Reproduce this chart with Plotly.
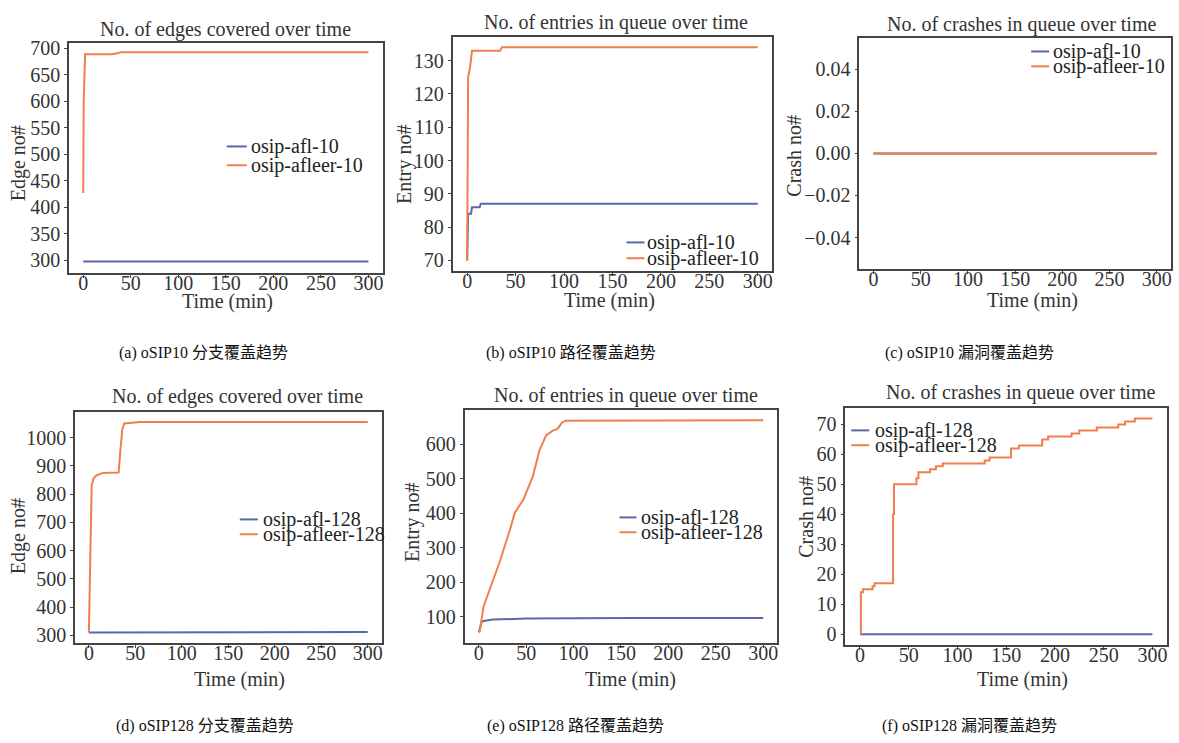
import plotly.graph_objects as go

W, H = 1179, 743

# ---------------- data ----------------
# (a) oSIP10 edges
a_afl_t = [0, 300]
a_afl_v = [298, 298]
a_afleer_t = [0, 0.5, 2, 30, 36, 40, 300]
a_afleer_v = [427, 600, 689, 689, 691, 693, 693]

# (b) oSIP10 entries
b_afl_t = [0, 0.5, 1, 4, 5, 13, 14, 300]
b_afl_v = [70, 78, 84, 84, 86, 86, 87, 87]
b_afleer_t = [0, 0.5, 1, 3, 5, 34, 36, 300]
b_afleer_v = [70, 110, 125, 128, 133, 133, 134, 134]

# (c) oSIP10 crashes
c_afl_t = [0, 300]
c_afl_v = [0, 0]
c_afleer_t = [0, 300]
c_afleer_v = [0, 0]

# (d) oSIP128 edges
d_afl_t = [0, 45, 50, 300]
d_afl_v = [310, 310, 312, 312]
d_afleer_t = [0, 1, 2, 3, 5, 8, 15, 32, 34, 36, 38, 45, 55, 300]
d_afleer_v = [310, 500, 760, 830, 855, 866, 875, 876, 960, 1030, 1050, 1052, 1055, 1055]

# (e) oSIP128 entries
e_afl_t = [0, 3, 5, 15, 50, 160, 300]
e_afl_v = [55, 85, 88, 92, 95, 97, 97]
e_afleer_t = [0, 1, 5, 12, 22, 33, 38, 47, 57, 64, 71, 78, 83, 88, 92, 300]
e_afleer_v = [55, 59, 130, 183, 259, 354, 402, 440, 507, 583, 626, 640, 645, 664, 669, 670]

# (f) oSIP128 crashes (step data)
f_afl_t = [0, 300]
f_afl_v = [0, 0]
f_afleer_t = [0, 1, 3, 13, 15, 34, 35, 58, 60, 72, 78, 85, 128, 133, 155, 163,
              187, 193, 217, 225, 243, 265, 272, 282, 300]
f_afleer_v = [0, 14, 15, 16, 17, 40, 50, 52, 54, 55, 56, 57, 58, 59, 62, 63,
              65, 66, 67, 68, 69, 70, 71, 72, 72]

titles = ["No. of edges covered over time", "No. of entries in queue over time",
          "No. of crashes in queue over time", "No. of edges covered over time",
          "No. of entries in queue over time", "No. of crashes in queue over time"]
ylabels = ["Edge no#", "Entry no#", "Crash no#", "Edge no#", "Entry no#", "Crash no#"]
xlabel = "Time (min)"
captions = ["(a) oSIP10 分支覆盖趋势", "(b) oSIP10 路径覆盖趋势", "(c) oSIP10 漏洞覆盖趋势",
            "(d) oSIP128 分支覆盖趋势", "(e) oSIP128 路径覆盖趋势", "(f) oSIP128 漏洞覆盖趋势"]
names_afl = ["osip-afl-10"] * 3 + ["osip-afl-128"] * 3
names_afleer = ["osip-afleer-10"] * 3 + ["osip-afleer-128"] * 3

series = [
    (a_afl_t, a_afl_v, a_afleer_t, a_afleer_v, "linear"),
    (b_afl_t, b_afl_v, b_afleer_t, b_afleer_v, "linear"),
    (c_afl_t, c_afl_v, c_afleer_t, c_afleer_v, "linear"),
    (d_afl_t, d_afl_v, d_afleer_t, d_afleer_v, "linear"),
    (e_afl_t, e_afl_v, e_afleer_t, e_afleer_v, "linear"),
    (f_afl_t, f_afl_v, f_afleer_t, f_afleer_v, "hv"),
]

yticks = [
    [300, 350, 400, 450, 500, 550, 600, 650, 700],
    [70, 80, 90, 100, 110, 120, 130],
    [-0.04, -0.02, 0.0, 0.02, 0.04],
    [300, 400, 500, 600, 700, 800, 900, 1000],
    [100, 200, 300, 400, 500, 600],
    [0, 10, 20, 30, 40, 50, 60, 70],
]
yranges = [[276, 711], [66.8, 137.2], [-0.055, 0.055], [273, 1092], [24, 701], [-3.6, 75.6]]
xticks = [0, 50, 100, 150, 200, 250, 300]

# ---------------- layout geometry (pixels) ----------------
boxes = [(69, 383, 38, 271), (453, 773, 32, 269), (860, 1172, 33, 267),
         (75, 382, 411, 645), (465, 778, 409, 645), (846, 1168, 407, 647)]
title_pos = [(226, 25), (617, 18), (1022, 20), (238, 396), (627, 395), (1021, 392)]
ylab_pos = [(18, 160), (405, 161), (795, 152), (18, 537), (413, 523), (807, 517)]
xlab_pos = [(228, 300), (610, 299), (1033, 299), (240, 682), (631, 682), (1023, 682)]
cap_pos = [(204, 352), (571, 352), (970, 352), (205, 729), (576, 729), (970, 729)]
# legend: (line start, line end, text left, row1 y, row2 y)
leg_pos = [(227, 247, 249, 143, 162), (627, 645, 646, 240, 256),
           (1032, 1050, 1052, 47, 62), (240, 258, 261, 520, 535),
           (620, 637, 640, 518, 533), (852, 870, 874, 430, 445)]

BLUE = "#5a68a6"
ORANGE = "#f07e4e"
SERIF = "Liberation Serif"
CAPFONT = "Liberation Serif, Noto Sans CJK SC"

def px(x):
    return x / W

def py(y):
    return 1 - y / H

fig = go.Figure()
layout = dict(width=W, height=H, margin=dict(l=0, r=0, t=0, b=0),
              paper_bgcolor="white", plot_bgcolor="white", showlegend=False)
annotations = []
shapes = []

for i in range(6):
    t1, v1, t2, v2, shape = series[i]
    sfx = "" if i == 0 else str(i + 1)
    fig.add_trace(go.Scatter(x=t1, y=v1, mode="lines", name=names_afl[i],
                             line=dict(color=BLUE, width=2, shape=shape),
                             xaxis="x" + sfx, yaxis="y" + sfx))
    fig.add_trace(go.Scatter(x=t2, y=v2, mode="lines", name=names_afleer[i],
                             line=dict(color=ORANGE, width=2, shape=shape),
                             xaxis="x" + sfx, yaxis="y" + sfx))
    l, r, t, b = boxes[i]
    axcommon = dict(showline=True, mirror=True, linecolor="#444", linewidth=1.5,
                    ticks="outside", ticklen=3, tickcolor="#444", showgrid=False,
                    zeroline=False, tickfont=dict(family=SERIF, size=20, color="#333"))
    layout["xaxis" + sfx] = dict(domain=[px(l), px(r)], anchor="y" + sfx,
                                 range=[-15, 315], tickvals=xticks,
                                 ticklabelstandoff=-12, **axcommon)
    ytf = ".2f" if i == 2 else ""
    layout["yaxis" + sfx] = dict(domain=[py(b), py(t)], anchor="x" + sfx,
                                 range=yranges[i], tickvals=yticks[i], tickformat=ytf,
                                 **axcommon)
    # manual legend (sample line + label)
    ls, le, tl, r1, r2 = leg_pos[i]
    for (ry, col, nm) in ((r1, BLUE, names_afl[i]), (r2, ORANGE, names_afleer[i])):
        shapes.append(dict(type="line", xref="paper", yref="paper",
                           x0=px(ls), x1=px(le), y0=py(ry), y1=py(ry),
                           line=dict(color=col, width=2)))
        annotations.append(dict(x=px(tl), y=py(ry), xref="paper", yref="paper",
                                text=nm, showarrow=False, xanchor="left",
                                yanchor="middle",
                                font=dict(family=SERIF, size=20, color="#222")))
    # titles and labels
    tx, ty = title_pos[i]
    annotations.append(dict(x=px(tx), y=py(ty), xref="paper", yref="paper",
                            text=titles[i], showarrow=False, xanchor="center",
                            yanchor="middle", font=dict(family=SERIF, size=20, color="#333")))
    yx, yy = ylab_pos[i]
    annotations.append(dict(x=px(yx), y=py(yy), xref="paper", yref="paper",
                            text=ylabels[i], showarrow=False, textangle=-90,
                            xanchor="center", yanchor="middle",
                            font=dict(family=SERIF, size=20, color="#333")))
    xx, xy = xlab_pos[i]
    annotations.append(dict(x=px(xx), y=py(xy), xref="paper", yref="paper",
                            text=xlabel, showarrow=False, xanchor="center",
                            yanchor="middle", font=dict(family=SERIF, size=20, color="#333")))
    cx, cy = cap_pos[i]
    annotations.append(dict(x=px(cx), y=py(cy), xref="paper", yref="paper",
                            text=captions[i], showarrow=False, xanchor="center",
                            yanchor="middle", font=dict(family=CAPFONT, size=16, color="#111")))

layout["annotations"] = annotations
layout["shapes"] = shapes
fig.update_layout(**layout)
fig.write_html("out.html", config={"displayModeBar": False},
               post_script="document.body.style.margin='0';document.body.style.overflow='hidden';")
